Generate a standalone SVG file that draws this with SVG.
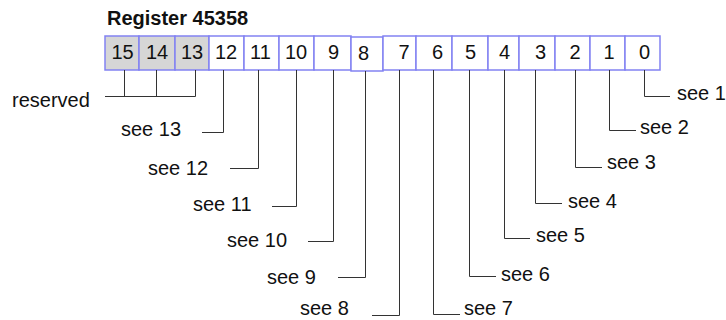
<svg xmlns="http://www.w3.org/2000/svg" width="726" height="320" viewBox="0 0 726 320">
<style>
text{font-family:"Liberation Sans",Arial,sans-serif;font-size:20px;fill:#111}
.title{font-weight:bold}
.cell{fill:#fff;stroke:#8282f2;stroke-width:1.5}
.res{fill:#d6d6d6}
.d{text-anchor:middle}
.c{fill:none;stroke:#333;stroke-width:1}
</style>
<rect width="726" height="320" fill="#fff"/>
<text class="title" x="107" y="25">Register 45358</text>
<g id="register">
<g id="bit15"><rect class="cell res" x="105" y="36" width="34" height="34"/><text class="d" x="122.5" y="59">15</text></g>
<g id="bit14"><rect class="cell res" x="139" y="36" width="36" height="34"/><text class="d" x="157" y="59">14</text></g>
<g id="bit13"><rect class="cell res" x="175" y="36" width="34" height="34"/><text class="d" x="192" y="59">13</text></g>
<g id="bit12"><rect class="cell" x="209" y="36" width="35" height="34"/><text class="d" x="226" y="59">12</text></g>
<g id="bit11"><rect class="cell" x="244" y="36" width="35" height="34"/><text class="d" x="260.5" y="59">11</text></g>
<g id="bit10"><rect class="cell" x="279" y="36" width="35" height="34"/><text class="d" x="296" y="59">10</text></g>
<g id="bit9"><rect class="cell" x="314" y="36" width="37" height="34"/><text class="d" x="333.5" y="59">9</text></g>
<g id="bit8"><rect class="cell" x="351" y="37" width="32" height="34"/><text class="d" x="363.5" y="60">8</text></g>
<g id="bit7"><rect class="cell" x="383" y="36" width="33" height="34"/><text class="d" x="404" y="59">7</text></g>
<g id="bit6"><rect class="cell" x="416" y="36" width="36" height="34"/><text class="d" x="437.5" y="59">6</text></g>
<g id="bit5"><rect class="cell" x="452" y="36" width="36" height="34"/><text class="d" x="470.5" y="59">5</text></g>
<g id="bit4"><rect class="cell" x="488" y="36" width="31" height="34"/><text class="d" x="504.5" y="59">4</text></g>
<g id="bit3"><rect class="cell" x="519" y="36" width="36" height="34"/><text class="d" x="540.5" y="59">3</text></g>
<g id="bit2"><rect class="cell" x="555" y="36" width="35" height="34"/><text class="d" x="575" y="59">2</text></g>
<g id="bit1"><rect class="cell" x="590" y="36" width="35" height="34"/><text class="d" x="609" y="59">1</text></g>
<g id="bit0"><rect class="cell" x="625" y="36" width="35" height="34"/><text class="d" x="644.5" y="59">0</text></g>
</g>
<g id="connectors">
<path class="c" d="M124.5 70V96.5M156.5 70V96.5M195.5 70V96.5M105 96.5H195.5"/>
<path class="c" d="M223.5 70V132.5H202"/>
<path class="c" d="M258.5 70V168.5H230"/>
<path class="c" d="M296.5 70V206.5H272"/>
<path class="c" d="M333.5 70V241.5H308"/>
<path class="c" d="M365.5 71V277.5H338"/>
<path class="c" d="M399.5 70V315.5H372"/>
<path class="c" d="M433.5 70V314.5H460"/>
<path class="c" d="M469.5 70V276.5H496"/>
<path class="c" d="M504.5 70V238.5H530"/>
<path class="c" d="M535.5 70V203.5H562"/>
<path class="c" d="M575.5 70V167.5H602"/>
<path class="c" d="M609.5 70V130.5H636"/>
<path class="c" d="M644.5 70V96.5H670"/>
</g>
<g id="labels">
<g id="lbl-reserved"><text x="12" y="107">reserved</text></g>
<g id="lbl-13"><text x="121" y="136">see 13</text></g>
<g id="lbl-12"><text x="148" y="175">see 12</text></g>
<g id="lbl-11"><text x="193" y="211">see 11</text></g>
<g id="lbl-10"><text x="227" y="247">see 10</text></g>
<g id="lbl-9"><text x="267" y="284">see 9</text></g>
<g id="lbl-8"><text x="300" y="315">see 8</text></g>
<g id="lbl-7"><text x="464" y="315">see 7</text></g>
<g id="lbl-6"><text x="501" y="281">see 6</text></g>
<g id="lbl-5"><text x="536" y="242">see 5</text></g>
<g id="lbl-4"><text x="568" y="208">see 4</text></g>
<g id="lbl-3"><text x="607" y="169">see 3</text></g>
<g id="lbl-2"><text x="640" y="134">see 2</text></g>
<g id="lbl-1"><text x="677" y="100">see 1</text></g>
</g>
</svg>
